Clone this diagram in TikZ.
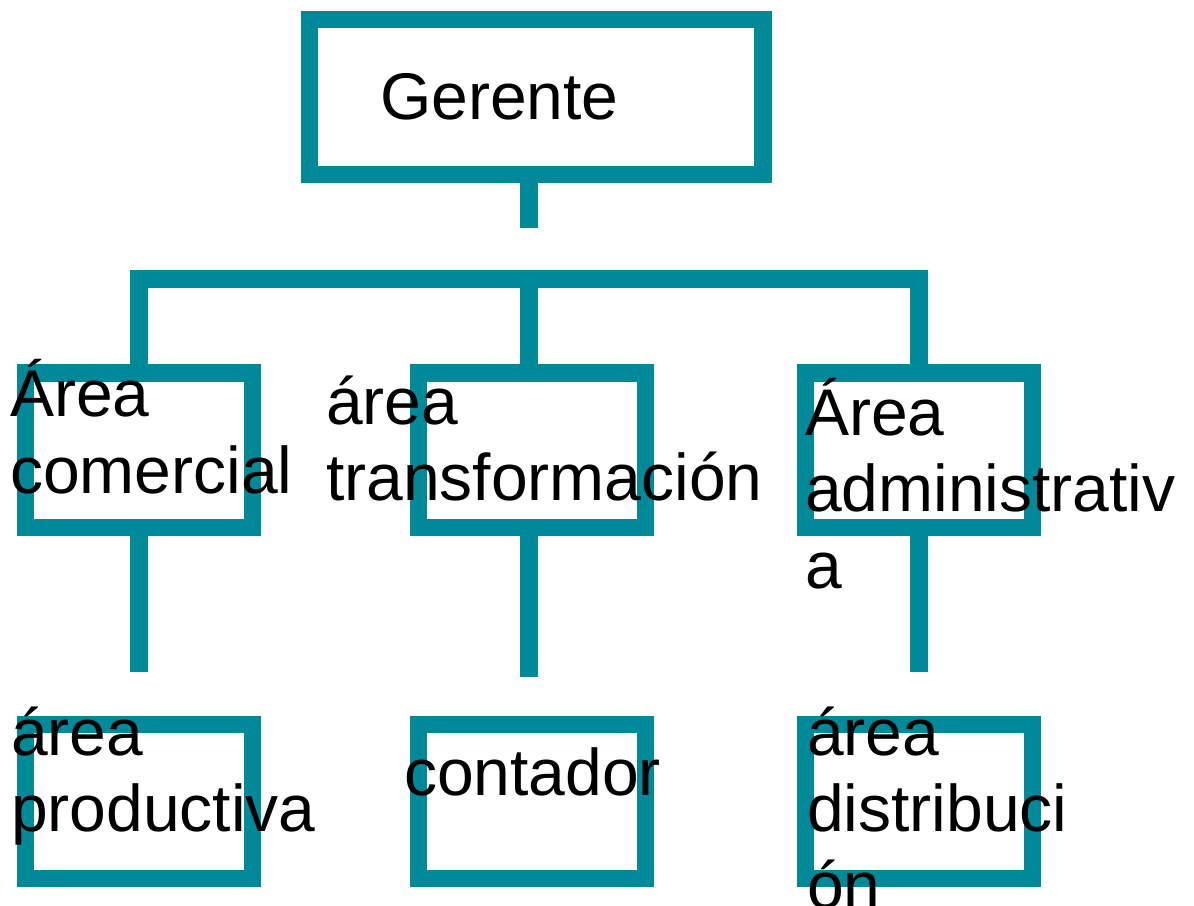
\documentclass[tikz,border=0pt]{standalone}
\usepackage{fontspec}
\setmainfont{Liberation Sans}
\definecolor{teal1}{RGB}{0,138,153}
\begin{document}
\begin{tikzpicture}[x=1pt,y=-1pt,
  orgbox/.style={draw=teal1, line width=17.3pt, fill=white, minimum width=227pt, minimum height=154.4pt, inner sep=0pt, outer sep=0pt},
  link/.style={draw=teal1, line width=17.3pt, line cap=butt, line join=miter},
  lbl/.style={anchor=base west, inner sep=0pt, outer sep=0pt, font=\fontsize{66}{76.6}\selectfont, text=black}]
\useasboundingbox[fill=white] (0,0) rectangle (1194,905);
% boxes
\node[orgbox, minimum width=453.7pt, minimum height=154.7pt] (g) at (536.2,97) {};
\node[orgbox] (b1) at (138.85,450.2) {};
\node[orgbox] (b2) at (532,450.2) {};
\node[orgbox] (b3) at (918.85,450.2) {};
\node[orgbox] (c1) at (138.85,801.5) {};
\node[orgbox] (c2) at (532,801.5) {};
\node[orgbox] (c3) at (918.85,801.5) {};
% coordinates
\coordinate (gend) at (529,227.7);
\coordinate (bus) at (529,279);
\coordinate (e1) at (138.85,671.7);
\coordinate (e2) at (529,677);
\coordinate (e3) at (918.85,671.7);
% connectors
\draw[link] (g.south -| gend) -- (gend);
\draw[link] (b1.north) -- (b1.north |- bus) -- (b3.north |- bus) -- (b3.north);
\draw[link] (bus) -- (bus |- b2.north);
\draw[link] (b1.south) -- (e1);
\draw[link] (b2.south -| e2) -- (e2);
\draw[link] (b3.south) -- (e3);
% labels
\node[lbl] (tg) at (380,119) {Gerente};
\node[lbl] (t1) at (10,416.7) {\vtop{\hbox{Área}\hbox{comercial}}};
\node[lbl] (t2) at (326,424) {\vtop{\hbox{área}\hbox{transformación}}};
\node[lbl] (t3) at (805,435) {\vtop{\hbox{Área}\hbox{administrativ}\hbox{a}}};
\node[lbl] (u1) at (11,755) {\vtop{\hbox{área}\hbox{productiva}}};
\node[lbl] (u2) at (404,795) {contador};
\node[lbl] (u3) at (807,755) {\vtop{\hbox{área}\hbox{distribuci}\hbox{ón}}};
\end{tikzpicture}
\end{document}
